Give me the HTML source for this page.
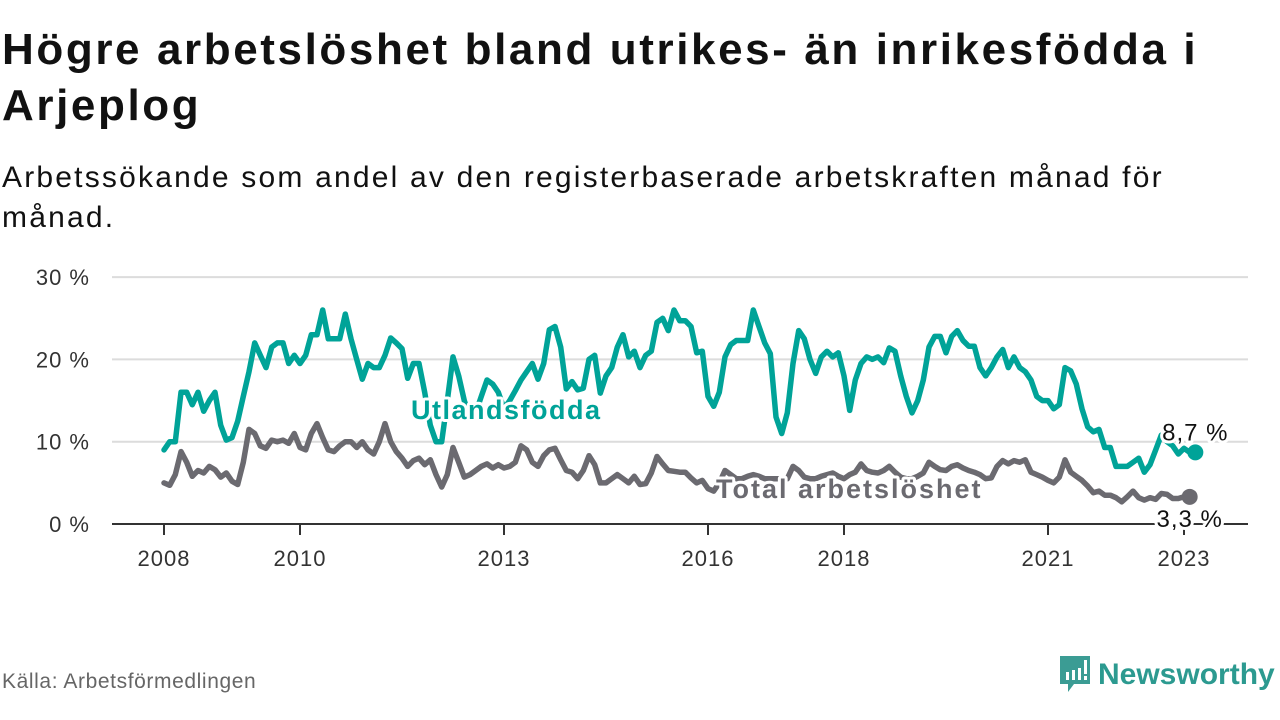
<!DOCTYPE html>
<html><head><meta charset="utf-8">
<style>
body{margin:0;width:1280px;height:720px;background:#fff;font-family:"Liberation Sans","DejaVu Sans",sans-serif;overflow:hidden;position:relative;color:#111}
h1{position:absolute;left:2px;top:22px;margin:0;font-size:44px;letter-spacing:2.6px;line-height:56px;font-weight:bold;width:1278px;color:#111;white-space:nowrap}
.sub{position:absolute;left:2px;top:158px;margin:0;font-size:30px;letter-spacing:2.2px;line-height:40px;width:1278px;color:#111;white-space:nowrap}
.src{position:absolute;left:2px;top:670px;font-size:21px;letter-spacing:0.6px;color:#666}
.logo{position:absolute;left:1058px;top:654px;display:flex;align-items:center}
.logo span{font-size:30px;font-weight:bold;color:#2c9a90;margin-left:6px}
svg#chart{position:absolute;left:0;top:0}
</style></head><body>
<h1>Högre arbetslöshet bland utrikes- än inrikesfödda i<br>Arjeplog</h1>
<p class="sub">Arbetssökande som andel av den registerbaserade arbetskraften månad för<br>månad.</p>
<svg id="chart" width="1280" height="720"></svg>
<div class="src">Källa: Arbetsförmedlingen</div>
<div class="logo">
<svg width="34" height="42" viewBox="0 0 34 42"><path d="M2 2h30v28H16l-6 8v-8H2z" fill="#3b9c94"/><rect x="8" y="18" width="3" height="8" fill="#fff"/><rect x="14" y="16" width="3" height="10" fill="#fff"/><rect x="20" y="14" width="3" height="12" fill="#fff"/><rect x="26" y="6" width="3" height="14" fill="#fff"/><rect x="26" y="22" width="3" height="4" fill="#fff"/></svg>
<span>Newsworthy</span></div>
<script>
const yTicks=[0,10,20,30];
const yTickLabels=["0 %","10 %","20 %","30 %"];
const xTickYears=[2008,2010,2013,2016,2018,2021,2023];
const startYear=2008;
const utlands=[9,10,10,16,16,14.5,16,13.7,15,16,12,10.2,10.5,12.5,15.5,18.5,22,20.5,19,21.5,22,22,19.5,20.5,19.5,20.5,23,23,26,22.5,22.5,22.5,25.5,22.5,20,17.6,19.5,19,19,20.5,22.6,22,21.3,17.7,19.5,19.5,16,12,10,10,15,20.3,18,15,13,13.5,15.5,17.5,17,16,14,15,16.2,17.5,18.5,19.5,17.6,19.5,23.6,24,21.5,16.4,17.3,16.3,16.5,20,20.5,15.9,18,19,21.5,23,20.3,21,19,20.5,21,24.5,25,23.5,26,24.7,24.7,24,20.8,21,15.5,14.3,16,20.3,21.8,22.3,22.3,22.3,26,24,22,20.7,13,11,13.5,19.5,23.5,22.5,20,18.3,20.3,21,20.3,20.8,18,13.8,17.5,19.5,20.3,20,20.3,19.6,21.4,21,18,15.5,13.5,15,17.5,21.5,22.8,22.8,20.8,22.8,23.5,22.3,21.6,21.6,19,18,19,20.3,21.2,19,20.3,19,18.5,17.5,15.5,15,15,14,14.5,19,18.6,17,14,11.8,11.2,11.5,9.3,9.3,7,7,7,7.5,8,6.3,7.2,9,10.8,10,9.5,8.5,9.2,8.7,8.7];
const total=[5,4.7,6,8.8,7.5,5.8,6.5,6.2,7,6.6,5.7,6.2,5.2,4.8,7.5,11.5,11,9.5,9.2,10.2,10,10.2,9.8,11,9.3,9,11,12.2,10.5,9,8.8,9.5,10,10,9.3,10,9,8.5,10,12.2,10,8.8,8,7,7.7,8,7.2,7.8,6,4.5,6,9.3,7.5,5.7,6,6.5,7,7.3,6.8,7.2,6.8,7,7.5,9.5,9,7.5,7,8.3,9,9.2,7.8,6.5,6.3,5.5,6.5,8.3,7.2,5,5,5.5,6,5.5,5,5.8,4.8,4.9,6.2,8.2,7.3,6.5,6.4,6.3,6.3,5.6,5,5.3,4.3,4,5,6.5,6,5.5,5.5,5.8,6,5.8,5.5,5.5,5.5,5.5,5.5,7,6.5,5.7,5.5,5.5,5.8,6,6.2,5.8,5.5,6,6.3,7.3,6.5,6.3,6.2,6.5,7,6.3,5.7,5.5,5.5,5.8,6.2,7.5,7,6.6,6.5,7,7.2,6.8,6.5,6.3,6,5.5,5.6,7,7.7,7.3,7.7,7.5,7.8,6.3,6,5.7,5.3,5,5.7,7.8,6.3,5.8,5.3,4.6,3.8,4,3.5,3.5,3.2,2.7,3.3,4,3.2,2.9,3.2,3,3.7,3.6,3.1,3.1,3.3,3.3];
const NS="http://www.w3.org/2000/svg";
const svg=document.getElementById('chart');
const X0=164,PXY=68,Y0=524,PXV=8.23;
function xm(i){return X0+i*PXY/12;}
function xy(yr){return X0+(yr-startYear)*PXY;}
function yv(v){return Y0-v*PXV;}
function mk(t,a){const e=document.createElementNS(NS,t);for(const k in a)e.setAttribute(k,a[k]);svg.appendChild(e);return e;}
yTicks.forEach((v,i)=>{
  if(v>0){const g=mk('line',{x1:112,x2:1248,y1:yv(v),y2:yv(v),stroke:'#dcdcdc','stroke-width':2});
  
  }
  const t=mk('text',{x:90,y:yv(v)+8,'text-anchor':'end','font-size':22,'letter-spacing':1,fill:'#333'});
  t.textContent=yTickLabels[i];
  
  
});
const ax=mk('line',{x1:112,x2:1248,y1:Y0,y2:Y0,stroke:'#333','stroke-width':2});


xTickYears.forEach(yr=>{
  const tk=mk('line',{x1:xy(yr),x2:xy(yr),y1:Y0,y2:Y0+11,stroke:'#333','stroke-width':2});
  
  
  const t=mk('text',{x:xy(yr),y:566,'text-anchor':'middle','font-size':22,'letter-spacing':1,fill:'#333'});
  t.textContent=yr;
  
  
});
function series(arr,col,name){
  const d=arr.map((v,i)=>(i?'L':'M')+xm(i).toFixed(1)+' '+yv(v).toFixed(1)).join('');
  const p=mk('path',{d:d,fill:'none',stroke:col,'stroke-width':5.5,'stroke-linejoin':'round','stroke-linecap':'round'});
  
  
  const n=arr.length-1;
  const c=mk('circle',{cx:xm(n),cy:yv(arr[n]),r:8,fill:col});
  
  
}
series(utlands,'#00a398','utlandsfodda');
series(total,'#6b6a70','total');
function label(txt,x,y,col,size,bold,anchor,ls,name){
  const t=mk('text',{x:x,y:y,'font-size':size,'letter-spacing':ls,fill:col,'font-weight':bold?'bold':'normal','text-anchor':anchor||'start',stroke:'#fff','stroke-width':6,'paint-order':'stroke','stroke-linejoin':'round'});
  t.textContent=txt;
  
  
}
label('Utlandsfödda',411,419,'#00a398',27,true,'start',1.5,'utlandsfodda-label');
label('Total arbetslöshet',716,498,'#6b6a70',27,true,'start',2,'total-label');
const nU=utlands.length-1,nT=total.length-1;
label(String(utlands[nU]).replace('.',',')+' %',xm(nU),yv(utlands[nU])-12,'#111',24,false,'middle',1,'utlandsfodda-value-label');
label(String(total[nT]).replace('.',',')+' %',xm(nT),yv(total[nT])+30,'#111',24,false,'middle',1,'total-value-label');
</script>
</body></html>
